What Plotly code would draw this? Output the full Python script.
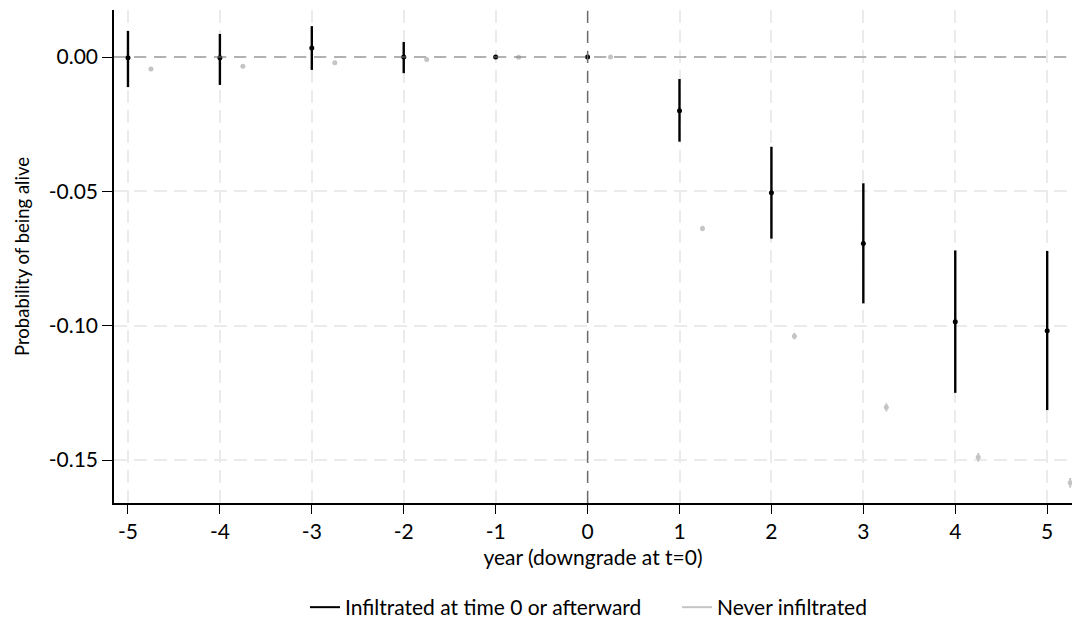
import plotly.graph_objects as go

years = [-5, -4, -3, -2, -1, 0, 1, 2, 3, 4, 5]

# Infiltrated at time 0 or afterward
inf_est = [-0.0003, -0.0003, 0.0034, 0.0000, 0.0000, 0.0000, -0.0200, -0.0505, -0.0694, -0.0985, -0.1019]
inf_hi = [0.0097, 0.0086, 0.0115, 0.0056, 0.0000, 0.0000, -0.0082, -0.0334, -0.0470, -0.0720, -0.0722]
inf_lo = [-0.0112, -0.0104, -0.0048, -0.0060, 0.0000, 0.0000, -0.0315, -0.0676, -0.0917, -0.1250, -0.1314]

# Never infiltrated (plotted with +0.25 offset)
never_offset = 0.25
never_est = [-0.0045, -0.0034, -0.0021, -0.0009, -0.0001, 0.0000, -0.0638, -0.1039, -0.1304, -0.1490, -0.1585]
never_ci = [0.0003, 0.0003, 0.0003, 0.0003, 0.0002, 0.0002, 0.0010, 0.0012, 0.0015, 0.0016, 0.0018]

x_ticks = [-5, -4, -3, -2, -1, 0, 1, 2, 3, 4, 5]
x_ticktext = ["-5", "-4", "-3", "-2", "-1", "0", "1", "2", "3", "4", "5"]
y_ticks = [0.0, -0.05, -0.10, -0.15]
y_ticktext = ["0.00", "-0.05", "-0.10", "-0.15"]

BLACK = "#000000"
GRAY = "#c4c4c4"
FONT = "Lato"

fig = go.Figure()

fig.add_trace(go.Scatter(
    x=years, y=inf_est, mode="markers",
    marker=dict(color=BLACK, size=5),
    error_y=dict(type="data", symmetric=False,
                 array=[h - e for h, e in zip(inf_hi, inf_est)],
                 arrayminus=[e - l for e, l in zip(inf_est, inf_lo)],
                 color=BLACK, thickness=2.4, width=0),
    showlegend=False,
))

fig.add_trace(go.Scatter(
    x=[y + never_offset for y in years], y=never_est, mode="markers",
    marker=dict(color=GRAY, size=5),
    error_y=dict(type="data", array=never_ci, color=GRAY, thickness=2, width=0),
    showlegend=False,
))

# legend entries as line samples
fig.add_trace(go.Scatter(x=[None], y=[None], mode="lines",
                         line=dict(color=BLACK, width=2),
                         name="Infiltrated at time 0 or afterward", legend="legend"))
fig.add_trace(go.Scatter(x=[None], y=[None], mode="lines",
                         line=dict(color=GRAY, width=2),
                         name="Never infiltrated", legend="legend2"))

# reference lines at 0
fig.add_shape(type="line", xref="paper", yref="y", x0=0, x1=1, y0=0, y1=0,
              line=dict(color="#7a7a7a", width=1.2, dash="12px,8px"), layer="above")
fig.add_shape(type="line", xref="x", yref="paper", x0=0, x1=0, y0=0, y1=1,
              line=dict(color="#6a6a6a", width=1.4, dash="12px,8px"), layer="above")

legend_common = dict(orientation="h", yanchor="middle", y=-0.212, xanchor="left",
                     font=dict(family=FONT, size=21), itemwidth=30,
                     bgcolor="rgba(0,0,0,0)", borderwidth=0)

fig.update_layout(
    width=1074, height=623,
    margin=dict(l=114, r=2, t=10, b=120, autoexpand=False),
    plot_bgcolor="white", paper_bgcolor="white",
    font=dict(family=FONT, size=21, color="#000000"),
    legend=dict(**legend_common, x=(305 - 114) / 958),
    legend2=dict(**legend_common, x=(677 - 114) / 958),
    xaxis=dict(
        range=[-5.152, 5.27],
        tickvals=x_ticks, ticktext=x_ticktext,
        showgrid=True, gridcolor="#ebebeb", griddash="13px,7px", gridwidth=1.5,
        zeroline=False, automargin=False,
        showline=True, linecolor="#000000", linewidth=1.5,
        ticks="outside", ticklen=9, tickcolor="#000000", tickwidth=1,
        tickfont=dict(size=21),
        title=dict(text="year (downgrade at t=0)", standoff=8, font=dict(size=21)),
    ),
    yaxis=dict(
        range=[-0.166, 0.0175],
        tickvals=y_ticks, ticktext=y_ticktext,
        showgrid=True, gridcolor="#ebebeb", griddash="13px,7px", gridwidth=1.5,
        zeroline=False, automargin=False,
        showline=True, linecolor="#000000", linewidth=1.5,
        ticks="outside", ticklen=10, tickcolor="#000000", tickwidth=1,
        tickfont=dict(size=21),
        title=dict(text="Probability of being alive", standoff=14, font=dict(size=18.5)),
    ),
)

fig.write_html("out.html")
